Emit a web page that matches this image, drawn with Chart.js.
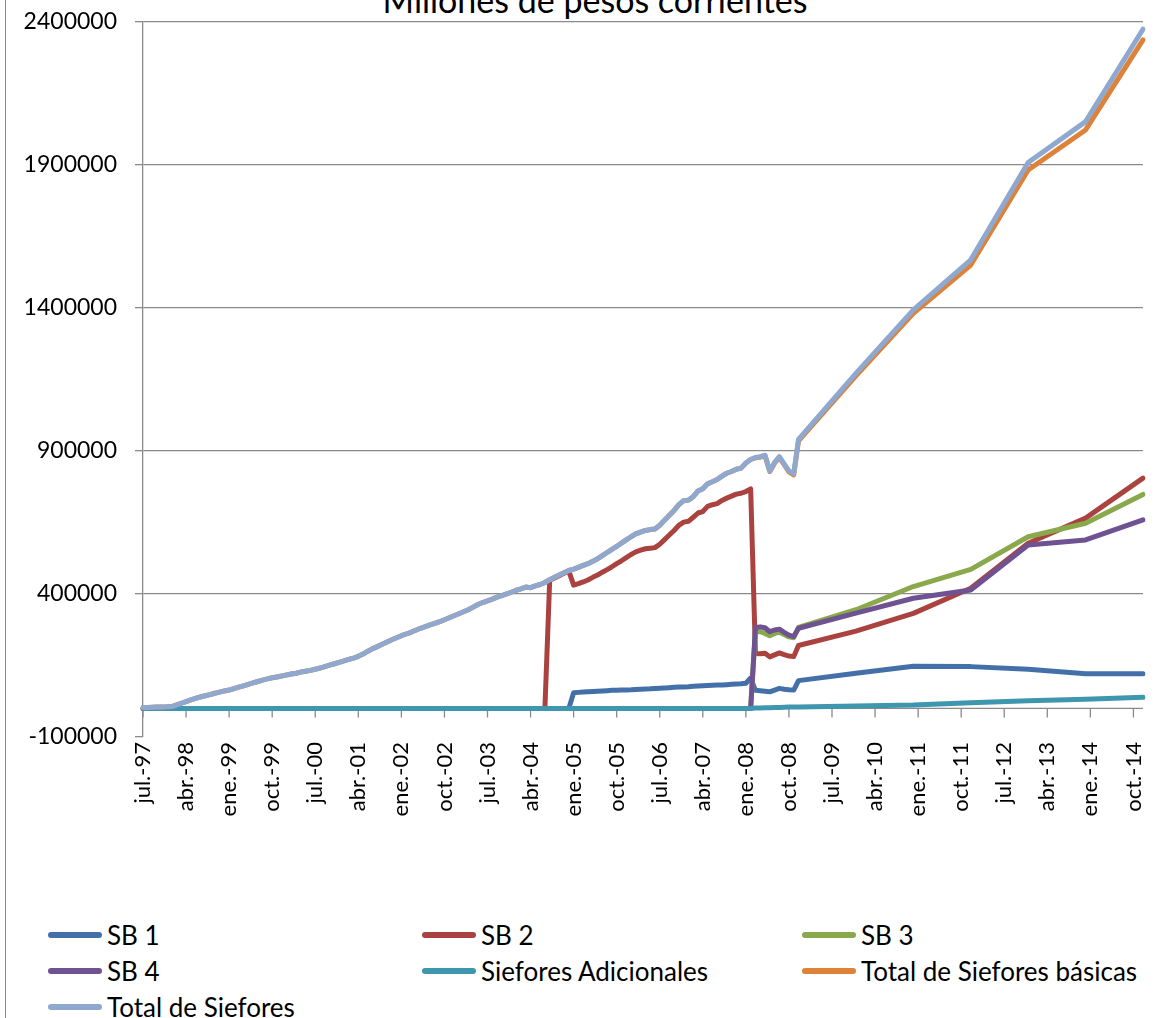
<!DOCTYPE html>
<html lang="es">
<head>
<meta charset="utf-8">
<title>Siefores - Millones de pesos corrientes</title>
<script src="https://cdn.jsdelivr.net/npm/chart.js@4.4.1/dist/chart.umd.min.js"></script>
<style>
  html, body { margin: 0; padding: 0; background: #fff; }
  body { width: 1166px; height: 1018px; position: relative; overflow: hidden; font-family: Lato, "Liberation Sans", sans-serif; color: #000; }
  #marco { position: absolute; left: 5px; top: 0; bottom: 0; border-left: 1.5px solid #868686; }
  #titulo { position: absolute; left: 595px; top: -17px; transform: translateX(-50%); font-size: 34px; line-height: 34px; white-space: nowrap; }
  #grafica { position: absolute; left: 0; top: -10px; width: 1166px; height: 910px; }
  #leyenda { position: absolute; left: 48px; top: 917px; display: grid; grid-template-columns: 374px 380px auto; grid-auto-rows: 36px; font-size: 26px; }
  .item { display: flex; align-items: center; white-space: nowrap; }
  .item .linea { width: 54px; height: 6px; border-radius: 3px; margin-right: 5px; }
</style>
</head>
<body>
<div id="marco"></div>
<div id="titulo">Millones de pesos corrientes</div>
<div id="grafica"><canvas id="chart"></canvas></div>
<div id="leyenda"></div>

<script>
// Categorias: meses de jul.-97 a dic.-14
const nombresMes = ['ene.', 'feb.', 'mar.', 'abr.', 'may.', 'jun.', 'jul.', 'ago.', 'sep.', 'oct.', 'nov.', 'dic.'];
const meses = [];
for (let a = 1997; a <= 2014; a++) {
    for (let m = 0; m < 12; m++) {
        if (a === 1997 && m < 6) continue;
        meses.push(nombresMes[m] + '-' + String(a).slice(2));
    }
}

// Datos mensuales jul.-97 .. dic.-08 (138 meses), luego solo diciembre de 2009 a 2014
const sb1Mensual = [
    0, 0, 0, 0, 0, 0,
    0, 0, 0, 0, 0, 0, 0, 0, 0, 0, 0, 0,
    0, 0, 0, 0, 0, 0, 0, 0, 0, 0, 0, 0,
    0, 0, 0, 0, 0, 0, 0, 0, 0, 0, 0, 0,
    0, 0, 0, 0, 0, 0, 0, 0, 0, 0, 0, 0,
    0, 0, 0, 0, 0, 0, 0, 0, 0, 0, 0, 0,
    0, 0, 0, 0, 0, 0, 0, 0, 0, 0, 0, 0,
    0, 0, 0, 0, 0, 0, 0, 0, 0, 0, 0, 0,
    55000, 56000, 57000, 58000, 59000, 60000, 61000, 62000, 63000, 63500, 64000, 64500,
    65000, 66000, 67000, 68000, 68500, 69500, 70500, 71500, 72500, 73500, 74500, 75000,
    75500, 77000, 78000, 79000, 80000, 81000, 81500, 82000, 83000, 84000, 85000, 86000,
    88000, 106000, 63000, 62000, 60000, 58000, 64000, 70000, 67000, 65000, 64000, 97000
];
const sb1Anual = [123000, 147000, 146000, 137000, 121000, 121000];

const sb2Mensual = [
    0, 0, 0, 0, 0, 0,
    0, 0, 0, 0, 0, 0, 0, 0, 0, 0, 0, 0,
    0, 0, 0, 0, 0, 0, 0, 0, 0, 0, 0, 0,
    0, 0, 0, 0, 0, 0, 0, 0, 0, 0, 0, 0,
    0, 0, 0, 0, 0, 0, 0, 0, 0, 0, 0, 0,
    0, 0, 0, 0, 0, 0, 0, 0, 0, 0, 0, 0,
    0, 0, 0, 0, 0, 0, 0, 0, 0, 0, 0, 0,
    0, 0, 0, 0, 0, 0, 0, 448000, 456000, 464000, 472000, 480000,
    431000, 436000, 442000, 449000, 458000, 466000, 476000, 485000, 495000, 506000, 516000, 527000,
    538000, 547000, 553000, 558000, 560000, 562000, 574000, 590000, 606000, 622000, 640000, 651000,
    654000, 668000, 683000, 688000, 706000, 712000, 716000, 727000, 735000, 742000, 749000, 752000,
    758000, 767000, 192000, 191000, 193000, 180000, 187000, 194000, 188000, 183000, 181000, 220000
];
const sb2Anual = [270000, 332000, 420000, 577000, 665000, 805000];

const sb3Mensual = [
    0, 0, 0, 0, 0, 0,
    0, 0, 0, 0, 0, 0, 0, 0, 0, 0, 0, 0,
    0, 0, 0, 0, 0, 0, 0, 0, 0, 0, 0, 0,
    0, 0, 0, 0, 0, 0, 0, 0, 0, 0, 0, 0,
    0, 0, 0, 0, 0, 0, 0, 0, 0, 0, 0, 0,
    0, 0, 0, 0, 0, 0, 0, 0, 0, 0, 0, 0,
    0, 0, 0, 0, 0, 0, 0, 0, 0, 0, 0, 0,
    0, 0, 0, 0, 0, 0, 0, 0, 0, 0, 0, 0,
    0, 0, 0, 0, 0, 0, 0, 0, 0, 0, 0, 0,
    0, 0, 0, 0, 0, 0, 0, 0, 0, 0, 0, 0,
    0, 0, 0, 0, 0, 0, 0, 0, 0, 0, 0, 0,
    0, 0, 270000, 268000, 262000, 254000, 262000, 266000, 258000, 250000, 247000, 283000
];
const sb3Anual = [345000, 426000, 486000, 600000, 647000, 748000];

const sb4Mensual = [
    0, 0, 0, 0, 0, 0,
    0, 0, 0, 0, 0, 0, 0, 0, 0, 0, 0, 0,
    0, 0, 0, 0, 0, 0, 0, 0, 0, 0, 0, 0,
    0, 0, 0, 0, 0, 0, 0, 0, 0, 0, 0, 0,
    0, 0, 0, 0, 0, 0, 0, 0, 0, 0, 0, 0,
    0, 0, 0, 0, 0, 0, 0, 0, 0, 0, 0, 0,
    0, 0, 0, 0, 0, 0, 0, 0, 0, 0, 0, 0,
    0, 0, 0, 0, 0, 0, 0, 0, 0, 0, 0, 0,
    0, 0, 0, 0, 0, 0, 0, 0, 0, 0, 0, 0,
    0, 0, 0, 0, 0, 0, 0, 0, 0, 0, 0, 0,
    0, 0, 0, 0, 0, 0, 0, 0, 0, 0, 0, 0,
    0, 0, 283000, 285000, 282000, 268000, 274000, 277000, 266000, 256000, 251000, 280000
];
const sb4Anual = [333000, 385000, 414000, 571000, 589000, 659000];

const adicionalesMensual = [
    0, 0, 0, 0, 0, 0,
    0, 0, 0, 0, 0, 0, 0, 0, 0, 0, 0, 0,
    0, 0, 0, 0, 0, 0, 0, 0, 0, 0, 0, 0,
    0, 0, 0, 0, 0, 0, 0, 0, 0, 0, 0, 0,
    0, 0, 0, 0, 0, 0, 0, 0, 0, 0, 0, 0,
    0, 0, 0, 0, 0, 0, 0, 0, 0, 0, 0, 0,
    0, 0, 0, 0, 0, 0, 0, 0, 0, 0, 0, 0,
    0, 0, 0, 0, 0, 0, 0, 0, 0, 0, 0, 0,
    0, 0, 0, 0, 0, 0, 0, 0, 0, 0, 0, 0,
    0, 0, 0, 0, 0, 0, 0, 0, 0, 0, 0, 0,
    0, 0, 0, 0, 0, 0, 0, 0, 0, 0, 0, 0,
    0, 0, 1000, 1500, 2000, 2500, 3000, 3500, 4000, 4500, 4800, 5000
];
const adicionalesAnual = [8500, 12000, 20000, 27000, 32000, 38700];

const basicasMensual = [
    3000, 3500, 4000, 4500, 5000, 5500,
    6500, 12000, 18000, 24000, 30000, 35000, 40000, 44000, 48000, 53000, 57000, 61000,
    64000, 69000, 74000, 79000, 84000, 89000, 94000, 99000, 103000, 107000, 110000, 113000,
    117000, 120000, 123000, 127000, 130000, 133000, 137000, 141000, 146000, 151000, 156000, 161000,
    166000, 171000, 176000, 182000, 190000, 200000, 209000, 216000, 224000, 232000, 240000, 247000,
    254000, 260000, 266000, 273000, 280000, 286000, 292000, 297000, 303000, 310000, 317000, 324000,
    331000, 338000, 345000, 354000, 363000, 370000, 376000, 382000, 389000, 394000, 400000, 406000,
    413000, 418000, 424000, 422000, 428000, 433000, 440000, 450000, 458000, 466000, 474000, 482000,
    487000, 493000, 500000, 506000, 514000, 523000, 534000, 545000, 556000, 566000, 578000, 589000,
    600000, 610000, 616000, 622000, 625000, 627000, 640000, 658000, 675000, 692000, 712000, 726000,
    728000, 740000, 760000, 768000, 785000, 792000, 800000, 812000, 822000, 828000, 836000, 840000,
    858000, 870000, 876000, 878000, 883000, 828000, 857000, 877000, 852000, 827000, 816000, 935000
];
const basicasAnual = [1162000, 1381000, 1550000, 1882000, 2022000, 2337000];

const totalMensual = [
    3000, 3500, 4000, 4500, 5000, 5500,
    6500, 12000, 18000, 24000, 30000, 35000, 40000, 44000, 48000, 53000, 57000, 61000,
    64000, 69000, 74000, 79000, 84000, 89000, 94000, 99000, 103000, 107000, 110000, 113000,
    117000, 120000, 123000, 127000, 130000, 133000, 137000, 141000, 146000, 151000, 156000, 161000,
    166000, 171000, 176000, 182000, 190000, 200000, 209000, 216000, 224000, 232000, 240000, 247000,
    254000, 260000, 266000, 273000, 280000, 286000, 292000, 297000, 303000, 310000, 317000, 324000,
    331000, 338000, 345000, 354000, 363000, 370000, 376000, 382000, 389000, 394000, 400000, 406000,
    413000, 418000, 424000, 422000, 428000, 433000, 440000, 450000, 458000, 466000, 474000, 482000,
    487000, 493000, 500000, 506000, 514000, 523000, 534000, 545000, 556000, 566000, 578000, 589000,
    600000, 610000, 616000, 622000, 625000, 627000, 640000, 658000, 675000, 692000, 712000, 726000,
    728000, 740000, 760000, 768000, 785000, 792000, 800000, 812000, 822000, 828000, 836000, 840000,
    858000, 870000, 877000, 880000, 885000, 830000, 860000, 880000, 855000, 830000, 820000, 940000
];
const totalAnual = [1171000, 1393000, 1568000, 1908000, 2051000, 2374000];

// Eje vertical
const yMin = -100000;
const yMax = 2400000;
const yPaso = 500000;

// mensual hasta dic.-08; despues solo el dato de diciembre (el resto vacio, la linea lo une)
function serie(mensual, anual) {
    return meses.map((m, i) => {
        if (i < mensual.length) return mensual[i];
        if (m.startsWith('dic.')) return anual[(i - mensual.length - 11) / 12];
        return null;
    });
}

const gris = '#8A8A8A';

// eje de categorias cruzando en 0 con sus marcas cada 9 meses
const ejeCero = {
    id: 'ejeCero',
    beforeDatasetsDraw(chart) {
        const { ctx, chartArea, scales: { x, y } } = chart;
        const y0 = y.getPixelForValue(0);
        ctx.save();
        ctx.strokeStyle = gris;
        ctx.lineWidth = 1.3;
        ctx.beginPath();
        ctx.moveTo(chartArea.left, y0);
        ctx.lineTo(chartArea.right, y0);
        meses.forEach((m, i) => {
            if (i % 9 !== 0) return;
            const px = x.getPixelForValue(i);
            ctx.moveTo(px, y0);
            ctx.lineTo(px, y0 + 9);
        });
        ctx.stroke();
        ctx.restore();
    }
};

function linea(label, data, color, order) {
    return {
        label: label,
        data: data,
        borderColor: color,
        backgroundColor: color,
        borderWidth: 5,
        pointRadius: 0,
        tension: 0,
        spanGaps: true,
        borderJoinStyle: 'round',
        borderCapStyle: 'round',
        order: order
    };
}

const chart = new Chart(document.getElementById('chart'), {
    type: 'line',
    data: {
        labels: meses,
        datasets: [
            linea('SB 1', serie(sb1Mensual, sb1Anual), '#4470A9', 7),
            linea('SB 2', serie(sb2Mensual, sb2Anual), '#AA4340', 6),
            linea('SB 3', serie(sb3Mensual, sb3Anual), '#89A94C', 5),
            linea('SB 4', serie(sb4Mensual, sb4Anual), '#6F5291', 4),
            linea('Siefores Adicionales', serie(adicionalesMensual, adicionalesAnual), '#3E97AF', 3),
            linea('Total de Siefores básicas', serie(basicasMensual, basicasAnual), '#DD8238', 2),
            linea('Total de Siefores', serie(totalMensual, totalAnual), '#8FA8CF', 1)
        ]
    },
    options: {
        responsive: true,
        maintainAspectRatio: false,
        animation: false,
        layout: { padding: { left: 0, top: 0, right: 23, bottom: 0 } },
        plugins: {
            legend: { display: false },
            tooltip: { enabled: false },
            title: { display: false }
        },
        scales: {
            x: {
                type: 'category',
                grid: { display: false, drawTicks: false },
                border: { display: false },
                ticks: {
                    autoSkip: false,
                    minRotation: 90,
                    maxRotation: 90,
                    padding: 5,
                    color: '#000',
                    font: { family: 'Lato', size: 22 },
                    callback: (v, i) => (i % 9 === 0 ? meses[i] : null)
                },
                afterFit: s => { s.height = 163; }
            },
            y: {
                min: yMin,
                max: yMax,
                grid: {
                    color: c => (c.tick && c.tick.value === yMin ? 'rgba(0,0,0,0)' : gris),
                    tickColor: gris,
                    lineWidth: 1.3,
                    tickLength: 8
                },
                border: { color: gris, width: 1.3 },
                ticks: {
                    stepSize: yPaso,
                    padding: 18,
                    color: '#000',
                    font: { family: 'Lato', size: 23 },
                    callback: v => String(v)
                },
                afterFit: s => { s.width = 143; }
            }
        }
    },
    plugins: [ejeCero]
});

// leyenda en tres columnas bajo la grafica
const leyenda = document.getElementById('leyenda');
chart.data.datasets.forEach(ds => {
    const item = document.createElement('div');
    item.className = 'item';
    const l = document.createElement('span');
    l.className = 'linea';
    l.style.background = ds.borderColor;
    const t = document.createElement('span');
    t.textContent = ds.label;
    item.appendChild(l);
    item.appendChild(t);
    leyenda.appendChild(item);
});
</script>
</body>
</html>
